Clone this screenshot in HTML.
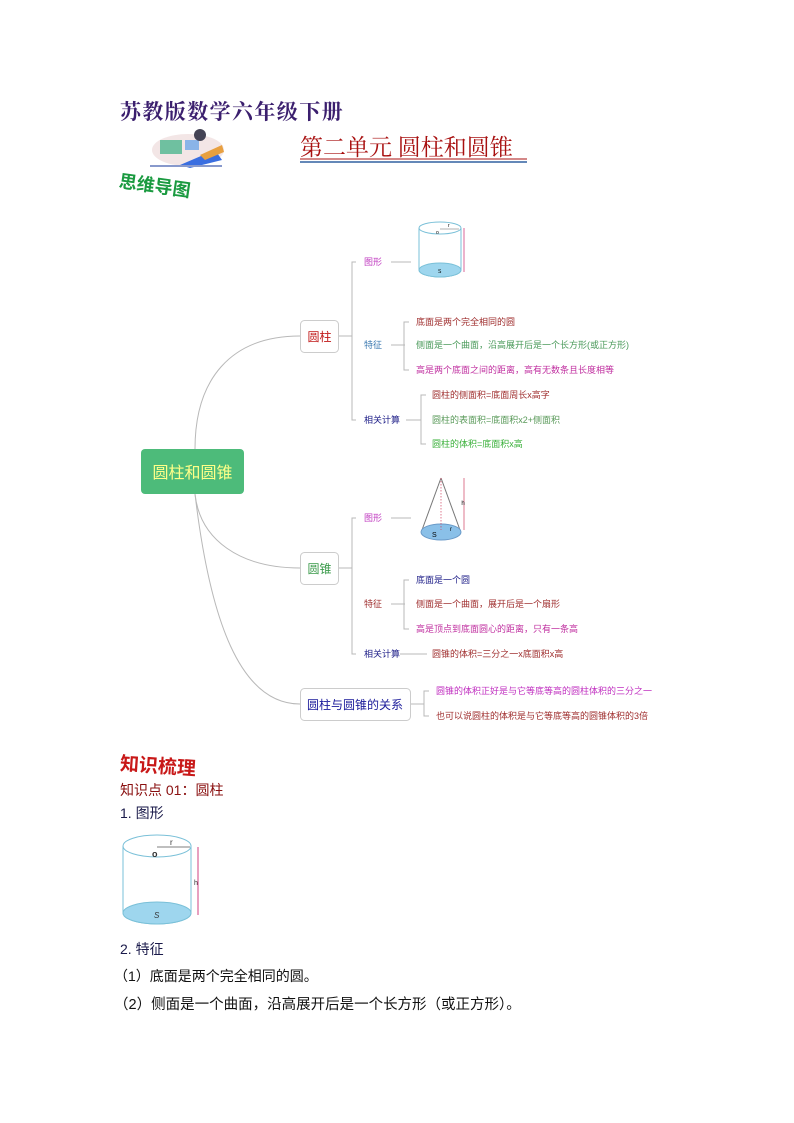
<!DOCTYPE html>
<html><head><meta charset="utf-8"><style>
html,body{margin:0;padding:0;background:#fff;width:794px;height:1123px;overflow:hidden}
svg{display:block}
text{font-family:"Liberation Sans","Noto Sans CJK SC",sans-serif}
.serif{font-family:"Liberation Serif","Noto Serif CJK SC",serif}
</style></head><body>
<svg width="794" height="1123" viewBox="0 0 794 1123" xmlns="http://www.w3.org/2000/svg">
<text class="serif" x="120" y="119" font-size="21" fill="#3b1f6e" font-weight="bold" letter-spacing="1.4">苏教版数学六年级下册</text>
<g>
<ellipse cx="188" cy="150" rx="36" ry="16" fill="#f3e6e6"/>
<rect x="160" y="140" width="22" height="14" fill="#6fc0a0"/>
<rect x="185" y="140" width="14" height="10" fill="#8ab4e8"/>
<circle cx="200" cy="135" r="6" fill="#445"/>
<polygon points="180,165 215,150 222,160 190,168" fill="#3a6ee0"/>
<polygon points="200,155 222,145 224,152 205,160" fill="#e8a040"/>
<rect x="150" y="165" width="72" height="2" fill="#8899cc"/>
</g>
<text x="119" y="190" font-size="18" font-weight="bold" fill="#1a9a40" transform="rotate(8 140 183)">思维导图</text>
<text class="serif" x="300" y="155" font-size="23" fill="#a81010">第二单元 圆柱和圆锥</text>
<line x1="300" y1="159" x2="527" y2="159" stroke="#a81010" stroke-width="1"/>
<line x1="300" y1="162" x2="527" y2="162" stroke="#3060a0" stroke-width="1.5"/>

<g fill="none" stroke="#b8b8b8" stroke-width="1">
<path d="M195,449 C195,380 230,336 300,336"/>
<path d="M195,494 C200,540 240,568 300,568"/>
<path d="M195,494 C210,620 240,704 300,704"/>
<line x1="338" y1="336" x2="352" y2="336"/>
<path d="M356,262 H352 V420 H356"/>
<line x1="391" y1="262" x2="411" y2="262"/>
<line x1="391" y1="345" x2="405" y2="345"/>
<path d="M409,322 H404 V370 H409"/>
<line x1="406" y1="420" x2="421" y2="420"/>
<path d="M426,395 H421 V444 H426"/>
<line x1="338" y1="568" x2="352" y2="568"/>
<path d="M356,518 H352 V654 H356"/>
<line x1="391" y1="518" x2="411" y2="518"/>
<line x1="391" y1="604" x2="405" y2="604"/>
<path d="M409,580 H404 V629 H409"/>
<line x1="400" y1="654" x2="427" y2="654"/>
<line x1="410" y1="704" x2="424" y2="704"/>
<path d="M429,691 H424 V716 H429"/>
</g>
<rect x="141" y="449" width="103" height="45" rx="4" fill="#4dbb7a"/>
<text x="192.5" y="478" font-size="16" fill="#ffff88" text-anchor="middle">圆柱和圆锥</text>
<rect x="300.5" y="320.5" width="38" height="32" rx="4" fill="#fff" stroke="#ccc"/>
<text x="319.5" y="341" font-size="12" fill="#c01818" text-anchor="middle">圆柱</text>
<rect x="300.5" y="552.5" width="38" height="32" rx="4" fill="#fff" stroke="#ccc"/>
<text x="319.5" y="573" font-size="12" fill="#3a9a4a" text-anchor="middle">圆锥</text>
<rect x="300.5" y="688.5" width="110" height="32" rx="4" fill="#fff" stroke="#ccc"/>
<text x="355" y="709" font-size="12" fill="#1a1a9a" text-anchor="middle">圆柱与圆锥的关系</text>

<g font-size="9">
<text x="364" y="265" fill="#c03cc0">图形</text>
<text x="364" y="348" fill="#3a78b0">特征</text>
<text x="364" y="423" fill="#22228a">相关计算</text>
<text x="416" y="325" fill="#a03030">底面是两个完全相同的圆</text>
<text x="416" y="348" fill="#4a9a5a">侧面是一个曲面，沿高展开后是一个长方形(或正方形)</text>
<text x="416" y="373" fill="#c030a0">高是两个底面之间的距离，高有无数条且长度相等</text>
<text x="432" y="398" fill="#a03030">圆柱的侧面积=底面周长x高字</text>
<text x="432" y="423" fill="#5a9a5a">圆柱的表面积=底面积x2+侧面积</text>
<text x="432" y="447" fill="#3ab03a">圆柱的体积=底面积x高</text>
<text x="364" y="521" fill="#c03cc0">图形</text>
<text x="364" y="607" fill="#a03030">特征</text>
<text x="364" y="657" fill="#22228a">相关计算</text>
<text x="416" y="583" fill="#22228a">底面是一个圆</text>
<text x="416" y="607" fill="#a03030">侧面是一个曲面，展开后是一个扇形</text>
<text x="416" y="632" fill="#c030a0">高是顶点到底面圆心的距离，只有一条高</text>
<text x="432" y="657" fill="#a03030">圆锥的体积=三分之一x底面积x高</text>
<text x="436" y="694" fill="#c030c0">圆锥的体积正好是与它等底等高的圆柱体积的三分之一</text>
<text x="436" y="719" fill="#a03030">也可以说圆柱的体积是与它等底等高的圆锥体积的3倍</text>
</g>

<g>
<path d="M419,228 V270 A21,7 0 0 0 461,270 V228" fill="#fff" stroke="#7ac0d8"/>
<ellipse cx="440" cy="270" rx="21" ry="7" fill="#9ed6ee" stroke="#7ac0d8"/>
<ellipse cx="440" cy="228" rx="21" ry="6" fill="#fff" stroke="#7ac0d8"/>
<line x1="440" y1="229" x2="459" y2="229" stroke="#666" stroke-width="0.6"/>
<line x1="464" y1="228" x2="464" y2="272" stroke="#d04080" stroke-width="0.8"/>
<text x="436" y="234" font-size="5">o</text><text x="448" y="227" font-size="5">r</text><text x="438" y="273" font-size="5">S</text>
</g>
<g>
<line x1="441" y1="478" x2="422" y2="530" stroke="#777"/>
<line x1="441" y1="478" x2="460" y2="530" stroke="#777"/>
<ellipse cx="441" cy="532" rx="20" ry="8" fill="#8ac0e8" stroke="#6a9ac8"/>
<line x1="441" y1="478" x2="441" y2="530" stroke="#d04060" stroke-dasharray="1.5,1.5" stroke-width="0.7"/>
<line x1="464" y1="478" x2="464" y2="530" stroke="#d04060" stroke-width="0.7"/>
<text x="463" y="505" font-size="6" text-anchor="middle">h</text>
<text x="432" y="537" font-size="7">S</text><text x="450" y="531" font-size="6">r</text>
</g>

<text x="120" y="772" font-size="19" font-weight="bold" fill="#c81818" transform="rotate(4 150 765)">知识梳理</text>
<text x="120" y="795" font-size="14" fill="#8a1010">知识点 01：圆柱</text>
<text x="120" y="818" font-size="14" fill="#1a1a4a">1. 图形</text>
<g>
<path d="M123,846 V913 A34,11 0 0 0 191,913 V846" fill="#fff" stroke="#7ac0d8"/>
<ellipse cx="157" cy="913" rx="34" ry="11" fill="#9ed6ee" stroke="#7ac0d8"/>
<ellipse cx="157" cy="846" rx="34" ry="11" fill="#fff" stroke="#7ac0d8"/>
<line x1="157" y1="847" x2="190" y2="847" stroke="#555" stroke-width="0.8"/>
<line x1="198" y1="847" x2="198" y2="915" stroke="#d04080"/>
<text x="152" y="857" font-size="9" font-weight="bold" fill="#333">o</text>
<text x="170" y="845" font-size="8" fill="#333">r</text>
<text x="194" y="885" font-size="7" fill="#333">h</text>
<text x="154" y="918" font-size="8" font-style="italic" fill="#333">S</text>
</g>
<text x="120" y="954" font-size="14" fill="#1a1a4a">2. 特征</text>
<text x="114" y="981" font-size="14" fill="#111">（1）底面是两个完全相同的圆。</text>
<text x="114" y="1009" font-size="14.5" fill="#111">（2）侧面是一个曲面，沿高展开后是一个长方形（或正方形）。</text>
</svg>
</body></html>
